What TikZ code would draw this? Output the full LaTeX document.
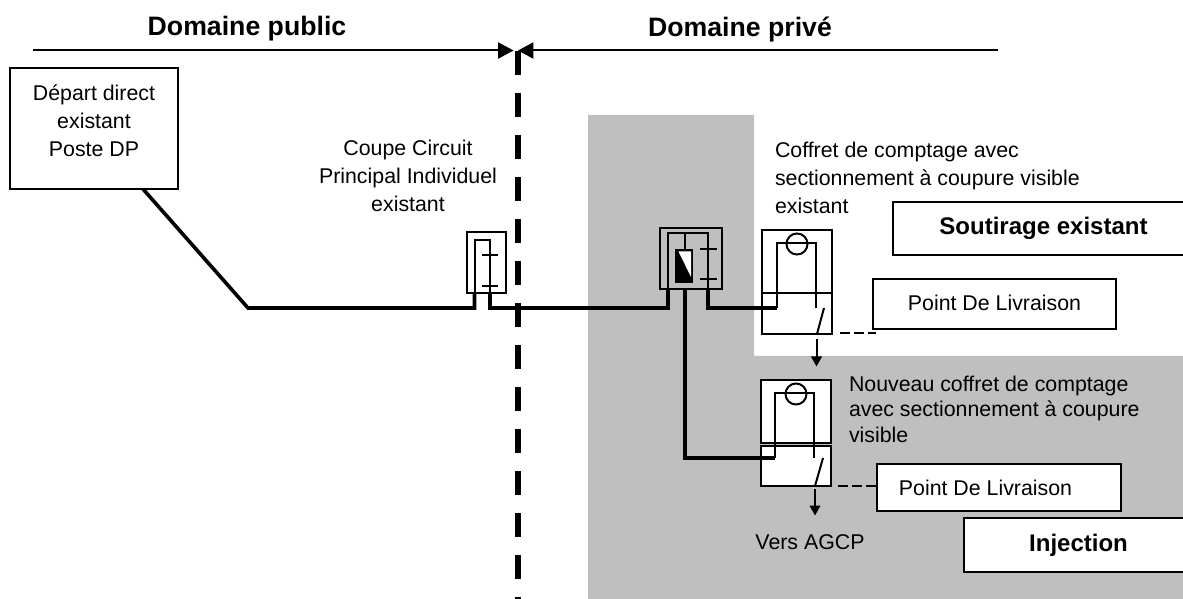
\documentclass[tikz,border=0pt]{standalone}
\usepackage{fontspec}
\setmainfont{Liberation Sans}
\usetikzlibrary{arrows.meta}
\begin{document}
\begin{tikzpicture}[x=0.75pt, y=-0.75pt]
	\tikzstyle{every path}=[line width=1.5pt]
	\tikzstyle{every node}=[inner sep=0pt, outer sep=0pt, align=center, line width=1.5pt, font=\fontsize{16}{21}\selectfont]
	\tikzstyle{textbox}=[draw, fill=white, anchor=north west]
	\tikzstyle{note}=[align=left, anchor=north west]
	\tikzstyle{title}=[font=\fontsize{20}{24}\selectfont\bfseries]
	\tikzstyle{tag}=[font=\fontsize{18}{22}\selectfont\bfseries]
	\tikzstyle{thick wire}=[line width=2.7pt, line join=miter]
	\tikzstyle{pointer}=[-{Triangle[length=7.5pt, width=8pt]}]
	\tikzstyle{header}=[-{Triangle[length=11.5pt, width=12pt]}]
	\tikzstyle{link}=[dash pattern=on 7.5pt off 3pt]
	\useasboundingbox (0,0) rectangle (1183,599);
	\fill [black!25] (588,115) -- (754,115) -- (754,356) -- (1183,356) -- (1183,599) -- (588,599) -- cycle;
	% en-tete
	\node [title] (public) at (247,29) {Domaine public};
	\node [title] (prive) at (740,29) {Domaine privé};
	\coordinate (limit top) at (518,51); \coordinate (limit bottom) at (518,599);
	\coordinate (left end) at (33,50.5); \coordinate (left tip) at (513.5,50.5);
	\coordinate (right end) at (998,50.5); \coordinate (right tip) at (518,50.5);
	\draw [line width=4.5pt, dash pattern=on 18pt off 13.5pt] (limit top) -- (limit bottom);
	\draw [header] (left end) -- (left tip);
	\draw [header] (right end) -- (right tip);
	% depart
	\node [textbox, minimum width=168*0.75pt, minimum height=121*0.75pt] (depart) at (10,68) {};
	\node (depart text) at (94,120.5) {Départ direct\\existant\\Poste DP};
	\coordinate (depart out) at (143,189); \coordinate (elbow) at (248,308);
	% coupe circuit
	\node [draw, minimum width=39*0.75pt, minimum height=61*0.75pt, anchor=north west] (ccpi) at (467,232) {};
	\node (ccpi text) at (408,176) {Coupe Circuit\\Principal Individuel\\existant};
	\coordinate (ccpi a) at (474.5,308); \coordinate (ccpi b) at (490,308);
	\coordinate (ccpi a top) at (474.5,240); \coordinate (ccpi b top) at (490,240);
	\coordinate (ccpi a low) at (474.5,293); \coordinate (ccpi b low) at (490,293);
	\draw (ccpi a low) -- (ccpi a top) -- (ccpi b top) -- (ccpi b low);
	\draw (482,255) -- (498,255); \draw (482,286) -- (498,286);
	% disjoncteur
	\node [draw, minimum width=62*0.75pt, minimum height=61*0.75pt, anchor=north west] (unit) at (660,228) {};
	\coordinate (unit a) at (668,308); \coordinate (unit b) at (708,308); \coordinate (unit c) at (685,289);
	\coordinate (unit a top) at (668,233.5); \coordinate (unit b top) at (708,233.5); \coordinate (unit c top) at (685,233.5);
	\coordinate (unit a low) at (668,289); \coordinate (unit b low) at (708,289);
	\draw (unit a low) -- (unit a top) -- (unit b top) -- (unit b low);
	\draw (unit c top) -- (685,250);
	\draw (700,249) -- (717,249); \draw (700,279) -- (717,279);
	\node [draw, fill=black, minimum width=16*0.75pt, minimum height=32*0.75pt, anchor=north west] (relay) at (676,250) {};
	\fill [white] (678.5,251.5) -- (691,251.5) -- (691,277) -- cycle;
	% coffret existant
	\node [draw, fill=white, minimum width=70*0.75pt, minimum height=63*0.75pt, anchor=north west] (meter top) at (762,230) {};
	\node [draw, fill=white, minimum width=70*0.75pt, minimum height=41*0.75pt, anchor=north west] (switch top) at (762,293) {};
	\coordinate (mt a) at (777,308); \coordinate (mt a top) at (777,243); \coordinate (mt b top) at (816,243); \coordinate (mt b) at (816,308);
	\draw (mt a) -- (mt a top) -- (mt b top) -- (mt b);
	\node [draw, circle, minimum size=21*0.75pt] (dial top) at (797,244) {};
	\coordinate (sw top a) at (824,308); \coordinate (sw top b) at (817,334);
	\draw (sw top a) -- (sw top b);
	\node [textbox, minimum width=243*0.75pt, minimum height=50*0.75pt] (pdl top) at (873,279) {};
	\node (pdl top text) at (994.5,302.5) {Point De Livraison};
	\coordinate (dash top a) at (840,333.5); \coordinate (dash top b) at (876,333.5);
	\draw [link] (dash top a) -- (dash top b);
	\coordinate (arrow top a) at (816.5,339); \coordinate (arrow top b) at (816.5,366.5);
	\draw [pointer] (arrow top a) -- (arrow top b);
	% nouveau coffret
	\node [draw, fill=white, minimum width=70*0.75pt, minimum height=63*0.75pt, anchor=north west] (meter new) at (761,380) {};
	\node [draw, fill=white, minimum width=70*0.75pt, minimum height=40*0.75pt, anchor=north west] (switch new) at (761,446) {};
	\coordinate (mn a) at (775,458); \coordinate (mn a top) at (775,393); \coordinate (mn b top) at (814,393); \coordinate (mn b) at (814,458);
	\draw (mn a) -- (mn a top) -- (mn b top) -- (mn b);
	\node [draw, circle, minimum size=21*0.75pt] (dial new) at (796,394) {};
	\coordinate (sw new a) at (823,458); \coordinate (sw new b) at (815,486);
	\draw (sw new a) -- (sw new b);
	\node [textbox, minimum width=244*0.75pt, minimum height=47*0.75pt] (pdl new) at (877,464) {};
	\node (pdl new text) at (985.5,488) {Point De Livraison};
	\coordinate (dash new a) at (838,486); \coordinate (dash new b) at (877,486);
	\draw [link] (dash new a) -- (dash new b);
	\coordinate (arrow new a) at (815,489); \coordinate (arrow new b) at (815,515.5);
	\draw [pointer] (arrow new a) -- (arrow new b);
	% ligne
	\draw [thick wire] (depart out) -- (elbow) -- (ccpi a) -- (ccpi a low);
	\draw [thick wire] (ccpi b low) -- (ccpi b) -- (unit a) -- (unit a low);
	\draw [thick wire] (unit b low) -- (unit b) -- (mt a);
	\draw [thick wire] (unit c) -- (685,458) -- (mn a);
	% textes
	\node [note] (coffret text) at (775,142) {Coffret de comptage avec\\sectionnement à coupure visible\\existant};
	\node [note, font=\fontsize{16}{19}\selectfont] (nouveau text) at (849,376) {Nouveau coffret de comptage\\avec sectionnement à coupure\\visible};
	\node (agcp text) at (810,542) {Vers AGCP};
	\node [textbox, tag, minimum width=301*0.75pt, minimum height=53*0.75pt] (soutirage) at (893,202) {Soutirage existant};
	\node [textbox, tag, minimum width=229*0.75pt, minimum height=54*0.75pt] (injection) at (964,518) {Injection};
\end{tikzpicture}
\end{document}
